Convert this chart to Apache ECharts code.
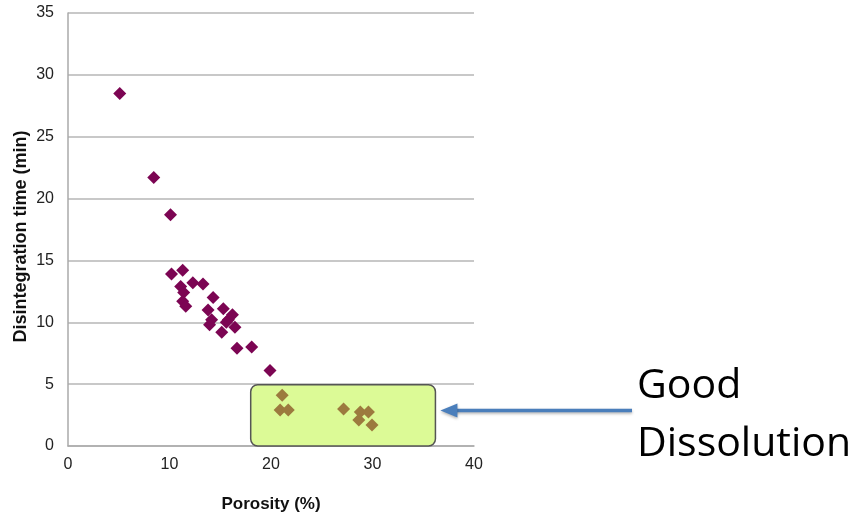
<!DOCTYPE html>
<html>
<head>
<meta charset="utf-8">
<script src="https://cdn.jsdelivr.net/npm/echarts@6/dist/echarts.min.js"></script>
<style>
  html, body { margin: 0; padding: 0; background: #fff; }
  #chart { width: 854px; height: 518px; }
</style>
</head>
<body>
<div id="chart"></div>
<script>
// Porosity (%) vs disintegration time (min)
const porosity = [5.1, 8.45, 10.1, 10.2, 11.3, 11.1, 12.3, 13.3, 11.4, 11.3, 11.6,
                  14.3, 13.8, 15.3, 14.15, 15.8, 16.45, 15.15, 13.95, 15.6, 16.2, 16.65, 18.1, 19.9];
const disintTime = [28.5, 21.7, 18.7, 13.9, 14.2, 12.9, 13.2, 13.1, 12.4, 11.7, 11.3,
                    12.0, 11.0, 11.1, 10.2, 10.2, 9.6, 9.2, 9.8, 10.0, 10.6, 7.9, 8.0, 6.1];

// Formulations with good dissolution
const goodPorosity = [21.1, 20.9, 21.7, 27.15, 28.8, 29.6, 28.65, 29.95];
const goodTime     = [4.1, 2.9, 2.9, 3.0, 2.75, 2.75, 2.1, 1.7];

// Highlighted region (data units)
const boxX = [18.0, 36.2];
const boxY = [0, 4.95];

const xTicks = { min: 0, max: 40, interval: 10 };
const yTicks = { min: 0, max: 35, interval: 5 };

const toPairs = (xs, ys) => xs.map((x, i) => [x, ys[i]]);

const chart = echarts.init(document.getElementById('chart'), null, { renderer: 'canvas' });

const labelFont = { color: '#222', fontSize: 16, fontFamily: 'Liberation Sans, Arial, sans-serif' };
const nameFont = { color: '#111', fontSize: 17, fontWeight: 'bold', fontFamily: 'Liberation Sans, Arial, sans-serif' };

chart.setOption({
  animation: false,
  backgroundColor: '#fff',
  grid: { left: 68, right: 380, top: 13, bottom: 72 },
  xAxis: {
    type: 'value', min: xTicks.min, max: xTicks.max, interval: xTicks.interval,
    name: 'Porosity (%)', nameLocation: 'middle', nameGap: 50,
    nameTextStyle: nameFont,
    axisLine: { show: true, lineStyle: { color: '#aaa', width: 1.5 } },
    axisTick: { show: false },
    axisLabel: Object.assign({ margin: 11 }, labelFont),
    splitLine: { show: false }
  },
  yAxis: {
    type: 'value', min: yTicks.min, max: yTicks.max, interval: yTicks.interval,
    name: 'Disintegration time (min)', nameLocation: 'middle', nameGap: 38,
    nameTextStyle: Object.assign({}, nameFont, { fontSize: 18, padding: [0, 14, 0, 0] }),
    axisLine: { show: true, lineStyle: { color: '#aaa', width: 1.5 } },
    axisTick: { show: false },
    axisLabel: Object.assign({ margin: 14 }, labelFont),
    splitLine: { show: true, lineStyle: { color: '#c8c8c8', width: 2 } }
  },
  series: [
    {
      type: 'scatter', name: 'Tablets', symbol: 'diamond', symbolSize: 13,
      itemStyle: { color: '#7c0553', opacity: 1 },
      data: toPairs(porosity, disintTime), z: 3
    },
    {
      type: 'scatter', name: 'Good dissolution', symbol: 'diamond', symbolSize: 13,
      itemStyle: { color: '#9c7a3e', opacity: 1 },
      data: toPairs(goodPorosity, goodTime), z: 5
    }
  ]
});

// Rounded highlight box, arrow and annotation
const p0 = chart.convertToPixel({ gridIndex: 0 }, [boxX[0], boxY[1]]);
const p1 = chart.convertToPixel({ gridIndex: 0 }, [boxX[1], boxY[0]]);
const arrowY = (p0[1] + p1[1]) / 2 - 5;
const tipX = p1[0] + 5;

chart.setOption({
  graphic: [
    {
      type: 'rect', z: 2, silent: true,
      shape: { x: p0[0], y: p0[1], width: p1[0] - p0[0], height: p1[1] - p0[1], r: 7 },
      style: { fill: '#dcfa96', stroke: '#555', lineWidth: 1.5 }
    },
    {
      type: 'line', z: 10, silent: true,
      shape: { x1: tipX + 14, y1: arrowY, x2: 632, y2: arrowY },
      style: { stroke: '#4a7ebb', lineWidth: 3.5, shadowColor: 'rgba(0,0,0,0.3)', shadowBlur: 3, shadowOffsetY: 1.5 }
    },
    {
      type: 'polygon', z: 10, silent: true,
      shape: { points: [[tipX, arrowY], [tipX + 17, arrowY - 7], [tipX + 17, arrowY + 7]] },
      style: { fill: '#4a7ebb', shadowColor: 'rgba(0,0,0,0.3)', shadowBlur: 3, shadowOffsetY: 1.5 }
    },
    {
      type: 'text', z: 10, silent: true, left: 637, top: 366,
      style: { text: 'Good', fill: '#000', font: '41px "Open Sans", "Noto Sans", sans-serif' }
    },
    {
      type: 'text', z: 10, silent: true, left: 637, top: 424,
      style: { text: 'Dissolution', fill: '#000', font: '41px "Open Sans", "Noto Sans", sans-serif' }
    }
  ]
});
</script>
</body>
</html>
